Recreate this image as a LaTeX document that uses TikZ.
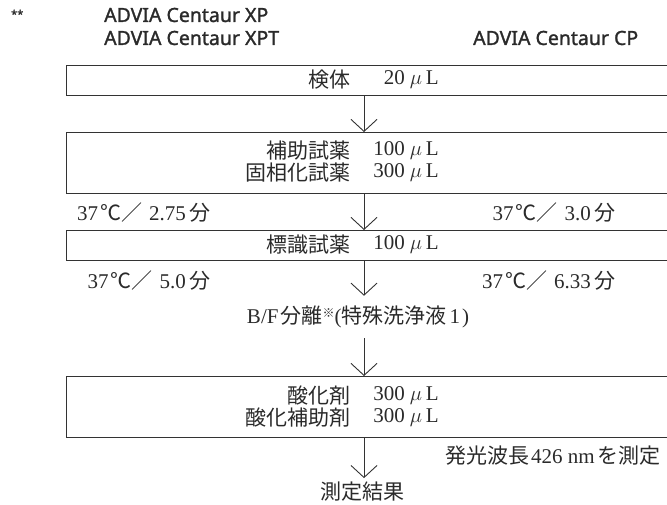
\documentclass[tikz,border=0pt]{standalone}
\usepackage{fontspec}
\setmainfont{Liberation Serif}
\newfontfamily\jp{Noto Sans CJK JP}
\newfontfamily\hd[FakeBold=1.4]{Noto Sans}
\usetikzlibrary{arrows.meta}
\newcommand\J[1]{{\jp #1}}
\newcommand\uL{\hspace{5pt}$\mu$\hspace{4pt}L}
\newcommand\tempmin[2]{#1\hspace{2pt}\J{℃／}\hspace{7pt}#2\hspace{4pt}\J{分}}
\definecolor{tc}{HTML}{2A2A2A}
\definecolor{lc}{HTML}{333333}
\tikzset{
  box/.style={draw=lc, line width=0.9pt, minimum width=604pt, anchor=north west, inner sep=0pt},
  flow/.style={draw=lc, line width=0.9pt, -{Straight Barb[length=12pt,width=26pt,line width=0.9pt]}},
  txt/.style={inner sep=0pt, text=tc, font=\fontsize{21}{25}\selectfont},
  lab/.style={txt, anchor=east},
  head/.style={inner sep=0pt, text=tc, anchor=west, font=\hd\fontsize{19.5}{23}\selectfont},
}
\begin{document}
\begin{tikzpicture}[x=1pt,y=-1pt]
\useasboundingbox (0,0) rectangle (667,504);
\clip (0,0) rectangle (667,504);
\coordinate (ax) at (364,0);
% headers
\node[inner sep=0pt, text=tc, anchor=west, font=\hd\fontsize{11}{13}\selectfont] (star) at (11,14) {**};
\node[head] (hxp) at (104,15) {ADVIA Centaur XP};
\node[head] (hxpt) at (104,38) {ADVIA Centaur XPT};
\node[head] (hcp) at (473,38) {ADVIA Centaur CP};
% boxes
\node[box, minimum height=30pt] (b1) at (66,65) {};
\node[box, minimum height=61pt] (b2) at (66,132) {};
\node[box, minimum height=30pt] (b3) at (66,230) {};
\node[box, minimum height=61pt] (b4) at (66,376) {};
% box texts
\node[lab] (t1a) at (351,80) {\J{検体}};
\node[lab] (t1b) at (439,80) {20\uL};
\node[lab] (t2a) at (351,151) {\J{補助試薬}};
\node[lab] (t2b) at (439,151) {100\uL};
\node[lab] (t2c) at (351,173) {\J{固相化試薬}};
\node[lab] (t2d) at (439,173) {300\uL};
\node[lab] (t3a) at (351,245) {\J{標識試薬}};
\node[lab] (t3b) at (439,245) {100\uL};
\node[lab] (t4a) at (351,396) {\J{酸化剤}};
\node[lab] (t4b) at (439,396) {300\uL};
\node[lab] (t4c) at (351,418) {\J{酸化補助剤}};
\node[lab] (t4d) at (439,418) {300\uL};
% side labels
\node[lab] (l1) at (211,213) {\tempmin{37}{2.75}};
\node[lab] (r1) at (616,213) {\tempmin{37}{3.0}};
\node[lab] (l2) at (211,281) {\tempmin{37}{5.0}};
\node[lab] (r2) at (616,281) {\tempmin{37}{6.33}};
\node[lab] (nm) at (661,456) {\J{発光波長}\hspace{2pt}426 nm\hspace{3pt}\J{を測定}};
% middle texts
\node[txt, inner ysep=10pt] (bf) at (358,317) {B/F\hspace{2pt}\J{分離}\raisebox{6pt}{\J{\fontsize{12}{12}\selectfont ※}}(\J{特殊洗浄液}\hspace{3pt}1\hspace{2pt})};
\node[txt, inner ysep=4pt] (res) at (362,492) {\J{測定結果}};
% connectors
\draw[flow] (b1.south -| ax) -- (b2.north -| ax);
\draw[flow] (b2.south -| ax) -- (b3.north -| ax);
\draw[flow] (b3.south -| ax) -- (bf.north -| ax);
\draw[flow] (bf.south -| ax) -- (b4.north -| ax);
\draw[flow] (b4.south -| ax) -- (res.north -| ax);
\end{tikzpicture}
\end{document}
